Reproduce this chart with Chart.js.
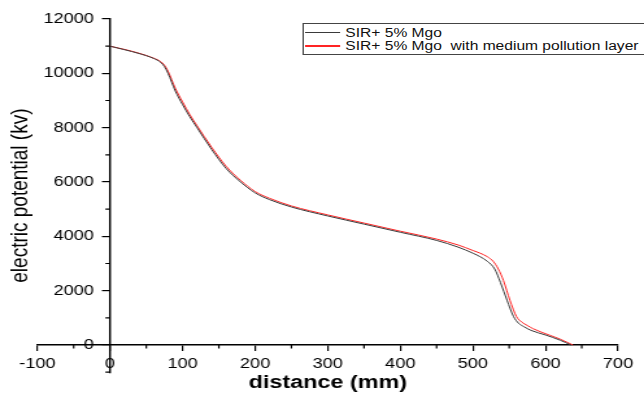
<!doctype html>
<html lang="en">
<head>
<meta charset="utf-8">
<title>electric potential vs distance</title>
<script src="https://cdn.jsdelivr.net/npm/chart.js@4.4.0/dist/chart.umd.min.js"></script>
<style>
  html, body { margin: 0; padding: 0; background: #fff; overflow: hidden; }
  /* the source picture is stretched sideways, so the whole stage is too */
  #stage {
    position: relative;
    width: 496px;
    height: 399px;
    overflow: hidden;
    transform: scaleX(1.2984);
    transform-origin: 0 0;
  }
  #legend {
    position: absolute;
    left: 232.5px;
    top: 23px;
    width: 300px;
    height: 32px;
    box-sizing: border-box;
    border: 1px solid #444;
    background: #fff;
    padding-top: 2px;
    font: 12px 'Liberation Sans', Arial, sans-serif;
    color: #111;
  }
  .row { display: flex; align-items: center; height: 13.3px; white-space: pre; }
  .swatch { display: inline-block; width: 27px; height: 1.3px; margin: 0 4px 0 1.5px; }
</style>
</head>
<body>
<div id="stage">
  <canvas id="chart"></canvas>
  <div id="legend"></div>
</div>
<script>
const seriesLabels = ['SIR+ 5% Mgo', 'SIR+ 5% Mgo  with medium pollution layer'];
const seriesColors = ['#3a3a3a', '#ff2424'];

const distancePlain = [0, 20, 40, 60, 70, 75, 80, 90, 100, 110, 120, 140, 160, 180, 200, 220, 250, 300, 350, 400, 450, 480, 500, 510, 520, 530, 538, 547, 556, 563, 570, 580, 600, 620, 635];
const potentialPlain = [11000, 10870, 10730, 10550, 10400, 10250, 10000, 9350, 8850, 8400, 8000, 7200, 6500, 6000, 5600, 5350, 5080, 4750, 4450, 4150, 3850, 3600, 3380, 3250, 3080, 2800, 2300, 1650, 1050, 800, 680, 540, 370, 180, 0];

const distancePolluted = [0, 20, 40, 60, 70, 75, 80, 90, 100, 110, 120, 140, 160, 180, 200, 220, 250, 300, 350, 400, 450, 480, 500, 510, 520, 528, 535, 542, 551, 560, 567, 575, 583, 606, 620, 638];
const potentialPolluted = [11000, 10880, 10740, 10560, 10430, 10300, 10080, 9450, 8950, 8480, 8070, 7280, 6580, 6060, 5650, 5400, 5120, 4790, 4490, 4190, 3900, 3680, 3480, 3380, 3250, 3080, 2800, 2380, 1650, 1050, 850, 720, 600, 360, 220, 0];

const xTicks = [-100, 0, 100, 200, 300, 400, 500, 600, 700];
const xMinor = [-50, 50, 150, 250, 350, 450, 550, 650];
const yTicks = [0, 2000, 4000, 6000, 8000, 10000, 12000];
const yMinor = [-1000, 1000, 3000, 5000, 7000, 9000, 11000];

const FONT = "'Liberation Sans', Arial, sans-serif";

function toPoints(xs, ys) {
  return xs.map(function (x, i) { return { x: x, y: ys[i] }; });
}

// short ticks between the labelled ones, on the outside of both axes
const minorTicks = {
  id: 'minorTicks',
  afterDraw(chart) {
    const { ctx, scales: { x, y } } = chart;
    const x0 = x.getPixelForValue(0);
    const y0 = y.getPixelForValue(0);
    ctx.save();
    ctx.strokeStyle = '#000';
    ctx.lineWidth = 1.2;
    ctx.beginPath();
    xMinor.forEach(function (v) {
      const px = x.getPixelForValue(v);
      ctx.moveTo(px, y0);
      ctx.lineTo(px, y0 + 3.5);
    });
    yMinor.forEach(function (v) {
      const py = y.getPixelForValue(v);
      ctx.moveTo(x0, py);
      ctx.lineTo(x0 - 3.5, py);
    });
    ctx.stroke();
    ctx.restore();
  }
};

const htmlLegend = {
  id: 'htmlLegend',
  afterUpdate(chart) {
    const box = document.getElementById('legend');
    box.innerHTML = '';
    chart.data.datasets.forEach(function (ds) {
      const row = document.createElement('div');
      row.className = 'row';
      const sw = document.createElement('span');
      sw.className = 'swatch';
      sw.style.backgroundColor = ds.borderColor;
      const txt = document.createElement('span');
      txt.textContent = ds.label;
      row.appendChild(sw);
      row.appendChild(txt);
      box.appendChild(row);
    });
  }
};

const axisGrid = { display: true, drawOnChartArea: false, drawTicks: true, tickLength: 5.5, color: '#000', lineWidth: 1.2 };
const axisBorder = { display: true, color: '#000', width: 1.4 };
const tickFont = { family: FONT, size: 14 };

function setYTicks(s) { s.ticks = yTicks.map(function (v) { return { value: v }; }); }

new Chart(document.getElementById('chart'), {
  type: 'line',
  data: {
    datasets: [
      {
        label: seriesLabels[0],
        data: toPoints(distancePlain, potentialPlain),
        borderColor: seriesColors[0],
        borderWidth: 1,
        pointRadius: 0,
        cubicInterpolationMode: 'monotone',
        xAxisID: 'x',
        yAxisID: 'y',
      },
      {
        label: seriesLabels[1],
        data: toPoints(distancePolluted, potentialPolluted),
        borderColor: seriesColors[1],
        borderWidth: 1,
        pointRadius: 0,
        cubicInterpolationMode: 'monotone',
        xAxisID: 'x',
        yAxisID: 'y',
      },
    ],
  },
  options: {
    responsive: true,
    maintainAspectRatio: false,
    animation: false,
    events: [],
    layout: { padding: { top: 19, right: 20, left: 0, bottom: 0 } },
    plugins: { legend: { display: false }, tooltip: { enabled: false } },
    scales: {
      x: {
        type: 'linear',
        min: -100,
        max: 700,
        position: { y: 0 },
        afterBuildTicks: function (s) { s.ticks = xTicks.map(function (v) { return { value: v }; }); },
        afterFit: function (s) { s.height = 0; },
        grid: axisGrid,
        border: axisBorder,
        ticks: { padding: 5, color: '#000', font: tickFont, maxRotation: 0, autoSkip: false,
          callback: function (v) { return String(v); } },
      },
      // axis line and tick marks at distance 0
      y: {
        type: 'linear',
        min: -1000,
        max: 12000,
        position: { x: 0 },
        afterBuildTicks: setYTicks,
        afterFit: function (s) { s.width = 0; },
        grid: axisGrid,
        border: axisBorder,
        ticks: { display: false },
      },
      // labels only, set a little left of the axis line
      yLabels: {
        type: 'linear',
        axis: 'y',
        min: -1000,
        max: 12000,
        position: { x: -22 },
        afterBuildTicks: setYTicks,
        afterFit: function (s) { s.width = 0; },
        grid: { display: false, drawTicks: false },
        border: { display: false },
        ticks: { color: '#000', font: tickFont, autoSkip: false,
          callback: function (v) { return String(v); } },
      },
      xTitle: {
        type: 'linear',
        axis: 'x',
        position: 'bottom',
        min: 0,
        max: 1,
        grid: { display: false, drawTicks: false },
        border: { display: false },
        ticks: { display: false },
        title: { display: true, text: 'distance (mm)', color: '#000',
          font: { family: FONT, size: 18, weight: 'bold' }, padding: { top: 0, bottom: 5.2 } },
      },
      yTitle: {
        type: 'linear',
        axis: 'y',
        position: 'left',
        min: 0,
        max: 1,
        grid: { display: false, drawTicks: false },
        border: { display: false },
        ticks: { display: false },
        title: { display: true, text: 'electric potential (kv)', color: '#000',
          font: { family: FONT, size: 19 }, padding: { top: 4, bottom: 2 } },
      },
    },
  },
  plugins: [minorTicks, htmlLegend],
});
</script>
</body>
</html>
